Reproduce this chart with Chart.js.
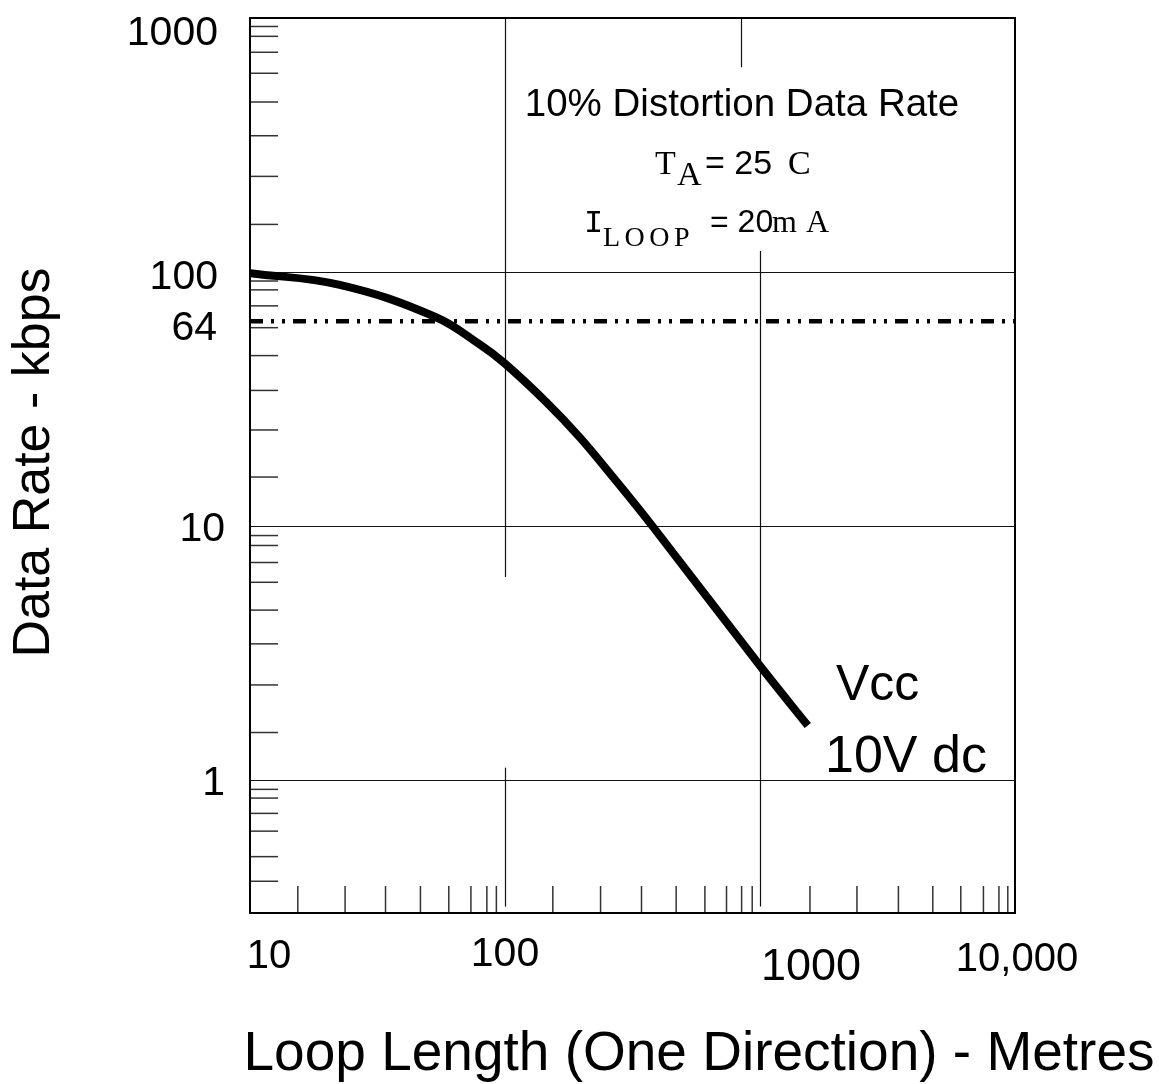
<!DOCTYPE html>
<html>
<head>
<meta charset="utf-8">
<script src="https://cdn.jsdelivr.net/npm/chart.js@4.4.0/dist/chart.umd.min.js"></script>
<style>
  html, body { margin: 0; padding: 0; background: #fff; }
</style>
</head>
<body>
<canvas id="grafico" width="1159" height="1084"></canvas>
<script>
// curva: comprimento do laco (m) x taxa de dados (kbps)
const comprimento = [10, 22.5, 53.1, 79.6, 100, 145.5, 196, 265, 380, 1000, 1540];
const taxa = [99, 89, 66.7, 51.9, 43.6, 30.7, 22.4, 15.6, 9.95, 2.82, 1.64];

const linhaRef = 64; // linha traco-ponto-ponto
const xFaixa = [10, 10000];
const yFaixa = [0.318, 1000];

const xTicks = [10, 100, 1000, 10000];
const xTickLabels = ["10", "100", "1000", "10,000"];
const yTicks = [1000, 100, 64, 10, 1];
const yTickLabels = ["1000", "100", "64", "10", "1"];
const yGrade = [100, 10, 1];

// tracinhos menores (posicoes lidas do desenho, nao sao os log normais)
const xMenores = [15.4, 23.6, 34, 46.6, 60.2, 73.5, 84.9, 92.5,
  154, 237, 343, 469, 608, 739, 847, 932,
  1570, 2400, 3490, 4760, 6130, 7520, 8650, 9370];
const yMenores = [0.4, 0.5, 0.63, 0.74, 0.85, 0.92,
  1.54, 2.37, 3.44, 4.67, 6.01, 7.19, 8.39, 9.18,
  15.6, 23.9, 34.2, 46.9, 60.4, 73.6, 85.1, 92.2,
  154, 238, 344, 467, 606, 733, 847, 926];

const SANS = '"Liberation Sans", Arial, sans-serif';
const SERIF = '"Liberation Serif", "Times New Roman", serif';
const MONO = '"Liberation Mono", "Courier New", monospace';

function escreve(ctx, texto, x, y, fonte, align, base) {
  ctx.font = fonte;
  ctx.textAlign = align || "left";
  ctx.textBaseline = base || "alphabetic";
  ctx.fillText(texto, x, y);
}

const grade = {
  id: "grade",
  beforeDatasetsDraw(chart) {
    const { ctx, chartArea: a, scales: { x, y } } = chart;
    ctx.save();
    ctx.strokeStyle = "#111";
    ctx.lineWidth = 1.2;

    // linhas horizontais inteiras
    yGrade.forEach(v => {
      const py = Math.round(y.getPixelForValue(v)) + 0.5;
      ctx.beginPath(); ctx.moveTo(a.left, py); ctx.lineTo(a.right, py); ctx.stroke();
    });

    // linhas verticais interrompidas como no original
    const trechos = [[100, 1000, 6.3], [100, 1.12, yFaixa[0]], [1000, 121, yFaixa[0]], [840, 1000, 640]];
    trechos.forEach(([vx, y1, y2]) => {
      const px = Math.round(x.getPixelForValue(vx)) + 0.5;
      ctx.beginPath();
      ctx.moveTo(px, y.getPixelForValue(y1));
      ctx.lineTo(px, y.getPixelForValue(y2));
      ctx.stroke();
    });

    // tracinhos menores
    ctx.strokeStyle = "#333";
    ctx.lineWidth = 1.5;
    yMenores.forEach(v => {
      const py = y.getPixelForValue(v);
      ctx.beginPath(); ctx.moveTo(a.left, py); ctx.lineTo(a.left + 28, py); ctx.stroke();
    });
    xMenores.forEach(v => {
      const px = x.getPixelForValue(v);
      ctx.beginPath(); ctx.moveTo(px, a.bottom); ctx.lineTo(px, a.bottom - 27); ctx.stroke();
    });

    // moldura
    ctx.strokeStyle = "#000";
    ctx.lineWidth = 2;
    ctx.strokeRect(a.left, a.top, a.right - a.left, a.bottom - a.top);
    ctx.restore();
  }
};

const textos = {
  id: "textos",
  afterDraw(chart) {
    const { ctx, chartArea: a, scales: { x, y } } = chart;
    ctx.save();
    ctx.fillStyle = "#000";

    // rotulos do eixo y: [dx, dy] do centro do texto em relacao ao tracinho
    const ajusteY = { "1000": [0, 12], "100": [0, 2], "64": [-1, 4], "10": [7, 0], "1": [7, 0] };
    yTicks.forEach((v, i) => {
      const lab = yTickLabels[i];
      const [dx, dy] = ajusteY[lab];
      escreve(ctx, lab, a.left - 32 + dx, y.getPixelForValue(v) + dy + 14.7, "41px " + SANS, "right");
    });

    // rotulos do eixo x (desalinhados no original)
    const ajusteX = { "10": [19, 0, 40], "100": [0, -2, 41], "1000": [51, 11, 45], "10,000": [2, 3, 40] };
    xTicks.forEach((v, i) => {
      const lab = xTickLabels[i];
      const [dx, dy, tam] = ajusteX[lab];
      escreve(ctx, lab, x.getPixelForValue(v) + dx, a.bottom + 44 + dy, tam + "px " + SANS, "center", "middle");
    });

    // titulos dos eixos
    escreve(ctx, "Loop Length (One Direction) - Metres", 699, 1055, "55px " + SANS, "center", "middle");
    ctx.save();
    ctx.translate(35, (a.top + a.bottom) / 2 - 3);
    ctx.rotate(-Math.PI / 2);
    escreve(ctx, "Data Rate - kbps", 0, 0, "52px " + SANS, "center", "middle");
    ctx.restore();

    // caixa de condicoes
    escreve(ctx, "10% Distortion Data Rate", 742, 116, "38.5px " + SANS, "center");
    escreve(ctx, "T", 655, 174, "34px " + SERIF);
    escreve(ctx, "A", 677, 185, "34px " + SERIF);
    escreve(ctx, "= 25", 705, 174, "34px " + SANS);
    escreve(ctx, "C", 788, 174, "34px " + SERIF);

    escreve(ctx, "I", 584, 232, "32px " + MONO);
    ctx.letterSpacing = "4.5px";
    escreve(ctx, "LOOP", 603, 246, "28px " + SERIF);
    ctx.letterSpacing = "0px";
    escreve(ctx, "= 20", 710, 232, "32px " + SANS);
    escreve(ctx, "m", 772, 232, "32px " + SERIF);
    escreve(ctx, "A", 806, 232, "32px " + SERIF);

    // rotulo da curva
    escreve(ctx, "Vcc", 836, 700, "50px " + SANS);
    escreve(ctx, "10V dc", 825, 772, "52px " + SANS);
    ctx.restore();
  }
};

new Chart(document.getElementById("grafico"), {
  type: "line",
  data: {
    datasets: [
      {
        data: comprimento.map((c, i) => ({ x: c, y: taxa[i] })),
        borderColor: "#000",
        borderWidth: 8,
        borderCapStyle: "butt",
        pointRadius: 0,
        tension: 0.4,
        fill: false
      },
      {
        data: xFaixa.map(c => ({ x: c, y: linhaRef })),
        borderColor: "#000",
        borderWidth: 4.5,
        borderDash: [13, 8, 3, 8, 3, 8],
        pointRadius: 0,
        fill: false
      }
    ]
  },
  options: {
    responsive: false,
    animation: false,
    devicePixelRatio: 1,
    layout: { padding: { left: 250, right: 144, top: 18, bottom: 171 } },
    plugins: { legend: { display: false }, tooltip: { enabled: false } },
    scales: {
      x: { type: "logarithmic", min: xFaixa[0], max: xFaixa[1], display: false },
      y: { type: "logarithmic", min: yFaixa[0], max: yFaixa[1], display: false }
    }
  },
  plugins: [grade, textos]
});
</script>
</body>
</html>
